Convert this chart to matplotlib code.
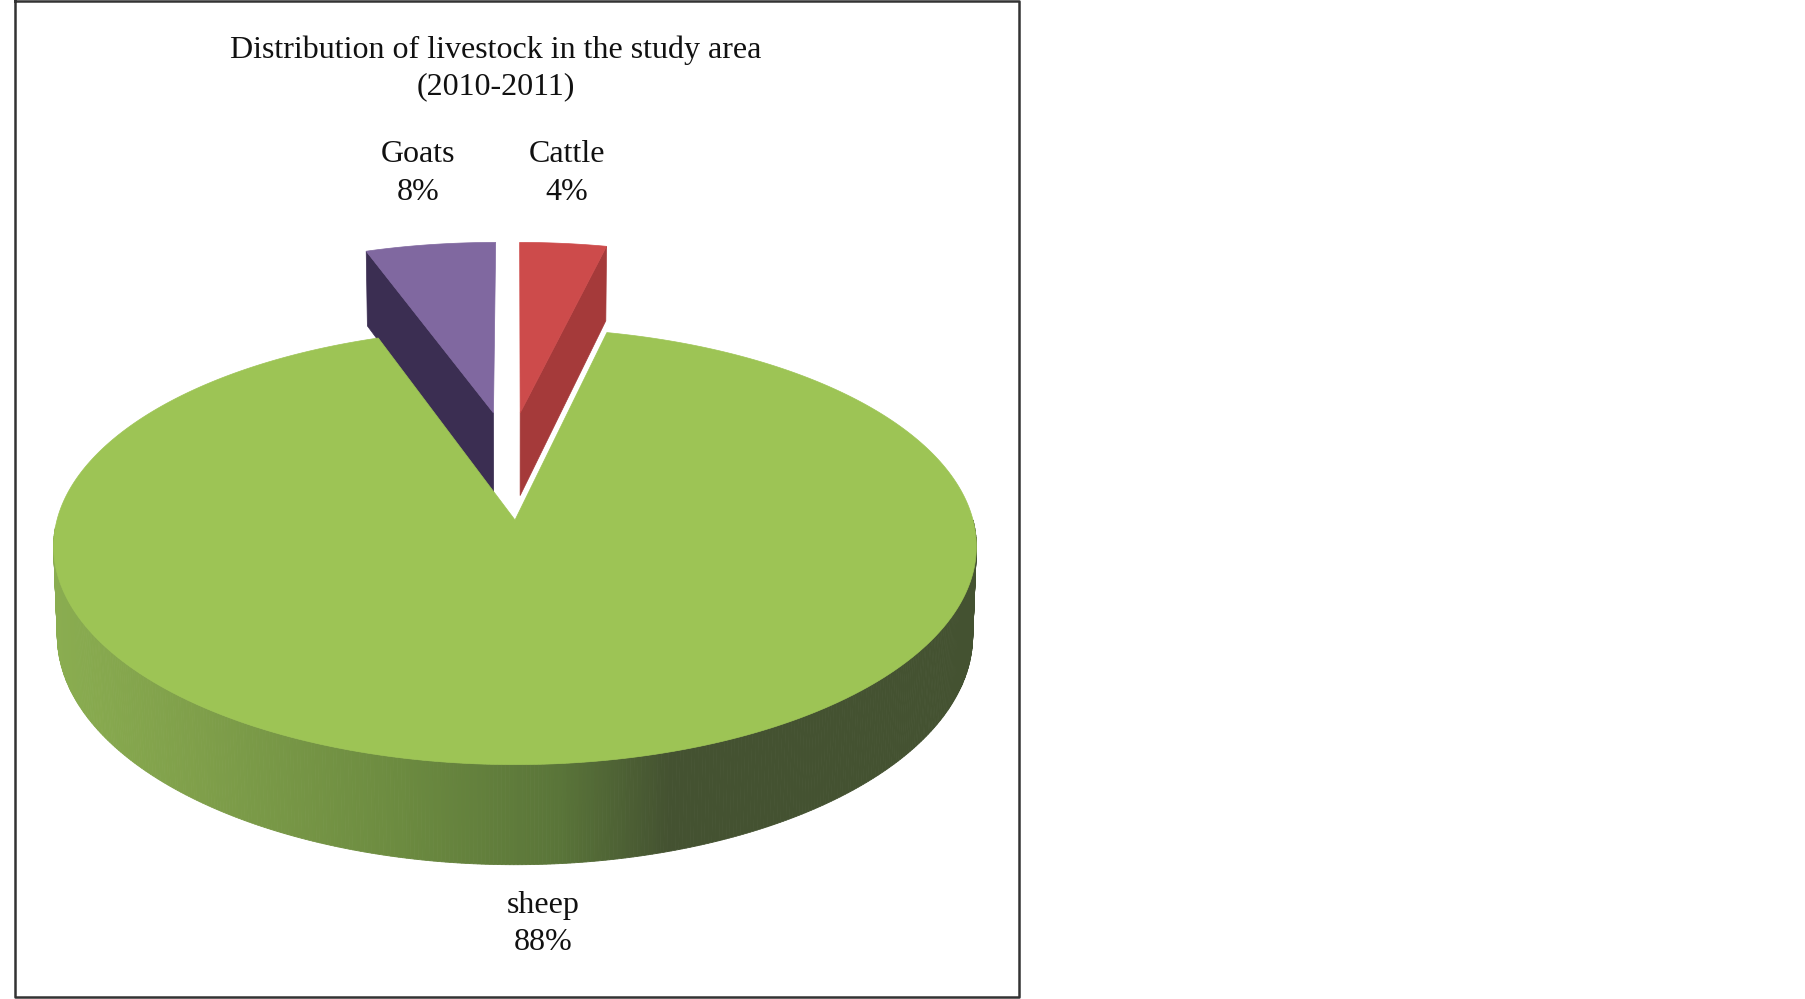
import numpy as np
import matplotlib
matplotlib.use("Agg")
import matplotlib.pyplot as plt
from matplotlib.colors import to_rgb

plt.rcParams['font.family'] = ['Liberation Serif', 'DejaVu Serif']

# data
categories = ['sheep', 'Goats', 'Cattle']
labels_pct = [88, 8, 4]
# the slices as drawn are narrower than their labels say
drawn_share = [91.0, 5.4, 3.6]
title_lines = ['Distribution of livestock in the study area', '(2010-2011)']

# projection of the tilted disc, in image pixels
CX, CY = 515, 520
A, B = 458, 215
K = 0.121
THICK = 88

GREEN = '#9dc455'
WALL_X = [55, 200, 400, 560, 670, 980]
WALL_COL = ['#8aad50', '#7f9f4a', '#6c8b40', '#5a7539', '#445231', '#445231']


def project(X, Y, z=0.0):
    X, Y = np.asarray(X, float), np.asarray(Y, float)
    d = 1 + K * Y
    x = CX + A * X * (1 - 0.008 * z) / d
    y = CY - B * Y / d + THICK * z / d
    return x, y


def rim(a0, a1, n=60):
    # angles in degrees, clockwise from the far side of the pie
    t = np.radians(np.linspace(a0, a1, n))
    return np.sin(t), np.cos(t)


def slice3d(ax, a0, a1, shift, top, side, wall_angle):
    X, Y = rim(a0, a1)
    X = np.r_[0, X] + shift[0]
    Y = np.r_[0, Y] + shift[1]
    # flat side wall, hanging under one straight edge
    ex = np.array([0, np.sin(np.radians(wall_angle))]) + shift[0]
    ey = np.array([0, np.cos(np.radians(wall_angle))]) + shift[1]
    x0, y0 = project(ex, ey)
    x1, y1 = project(ex, ey, 1)
    ax.fill(np.r_[x0, x1[::-1]], np.r_[y0, y1[::-1]], color=side, lw=0.5, zorder=2)
    px, py = project(X, Y)
    ax.fill(px, py, color=top, lw=0.5, zorder=3)


fig = plt.figure(figsize=(18.05, 9.99), dpi=100)
ax = fig.add_axes([0, 0, 1, 1])
ax.set_xlim(0, 1805)
ax.set_ylim(999, 0)
ax.axis('off')

ax.plot([15, 1019, 1019, 15, 15], [1, 1, 997, 997, 1], color='#333333', lw=1.8, zorder=1)

sheep_deg = drawn_share[0] * 3.6
goat_deg = drawn_share[1] * 3.6
cattle_deg = drawn_share[2] * 3.6

# exploded slices go first, the big slice hides what is under it
slice3d(ax, -goat_deg, 0, (-0.05, 0.53), '#8068a0', '#3b2e52', -goat_deg)
slice3d(ax, 0, cattle_deg, (0.012, 0.53), '#cd4b4b', '#a53a3a', cattle_deg)

# sheep outer wall, cut in thin strips for the gradient
stops = np.array([to_rgb(c) for c in WALL_COL])
tw = np.linspace(268, 90, 400)
for a, b in zip(tw[:-1], tw[1:]):
    X, Y = rim(a, b, 2)
    x0, y0 = project(X, Y)
    x1, y1 = project(X, Y, 1)
    xm = x0.mean()
    col = [np.interp(xm, WALL_X, stops[:, i]) for i in range(3)]
    ax.fill(np.r_[x0, x1[::-1]], np.r_[y0, y1[::-1]], color=col, lw=0.6, zorder=4)

# sheep top face
X, Y = rim(cattle_deg, cattle_deg + sheep_deg, 400)
px, py = project(np.r_[0, X], np.r_[0, Y])
ax.fill(px, py, color=GREEN, lw=0.5, zorder=5)

FS = 23
ax.text(496, 50, title_lines[0], ha='center', va='center', fontsize=FS, color='#111111')
ax.text(496, 87, title_lines[1], ha='center', va='center', fontsize=FS, color='#111111')

label_pos = {'Goats': (418, 155), 'Cattle': (567, 155), 'sheep': (543, 905)}
for name, pct in zip(categories, labels_pct):
    x, y = label_pos[name]
    ax.text(x, y, name, ha='center', va='center', fontsize=FS, color='#111111')
    ax.text(x, y + 37, f'{pct}%', ha='center', va='center', fontsize=FS, color='#111111')

fig.savefig('out.png', dpi=100)
